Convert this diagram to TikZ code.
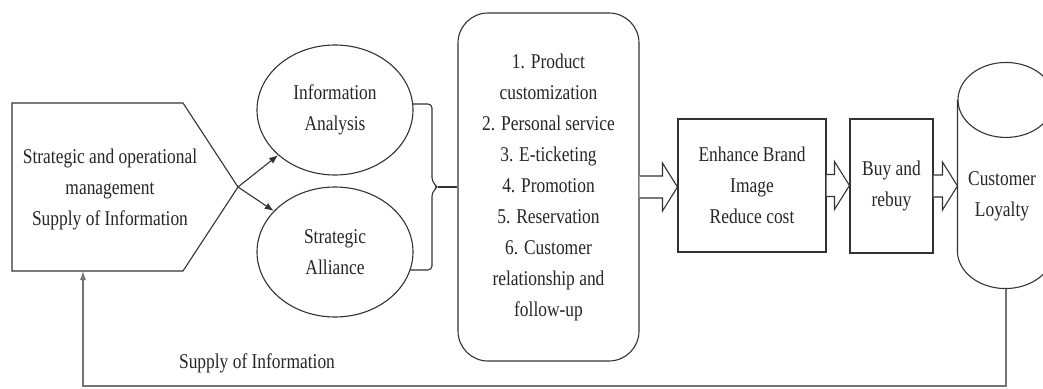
\documentclass[tikz,border=0pt]{standalone}
\usepackage{fontspec}
\setmainfont{Liberation Serif}[FakeStretch=0.83]
\usetikzlibrary{shapes.geometric,arrows.meta,calc}

\begin{document}
\begin{tikzpicture}[x=1pt,y=-1pt,line width=1.1pt,
  font=\fontsize{21}{31}\selectfont,text=black!85,
  line/.style={draw=black!80},
  flow/.style={draw=black!80,-{Latex[length=9pt,width=7pt]}},
  feed/.style={draw=black!55,-{Latex[length=9pt,width=6pt]}},
  oval/.style={ellipse,draw=black!80,minimum width=156pt,minimum height=130pt,align=center,inner sep=0pt},
  box/.style={rectangle,draw=black!80,align=center,inner sep=0pt},
  hollow/.style={draw=black!80,fill=white,line join=miter}]
  \useasboundingbox (0,0) rectangle (1043,388);
  % management block
  \draw[line] (12,103) -- (183,103) -- (238,187) coordinate (tip)
    -- (183,271) -- (12,271) coordinate (mgmtSW) -- cycle;
  \node[align=center] (mgmt) at (110,189) {Strategic and operational\\management\\Supply of Information};
  % ovals
  \node[oval] (info) at (335,110) {Information\\Analysis};
  \node[oval] (ally) at (335,252) {Strategic\\Alliance};
  \draw[flow] (tip) -- (info);
  \draw[flow] (tip) -- (ally);
  % bracket
  \coordinate (brc) at (438,187);
  \draw[line,rounded corners=4pt] (413,104) -| (432,182) -- (brc) -- (432,192) |- (410,270);
  % activities
  \node[box,rounded corners=30pt,minimum width=181pt,minimum height=348pt] (acts) at (548.5,187)
    {1. Product\\customization\\2. Personal service\\3. E-ticketing\\4. Promotion\\5. Reservation\\6. Customer\\relationship and\\follow-up};
  \draw[line] (brc) -- (acts);
  % outcomes
  \node[box,minimum width=148pt,minimum height=133pt] (brand) at (752,185.5) {Enhance Brand\\Image\\Reduce cost};
  \node[box,minimum width=83pt,minimum height=134pt] (buy) at (891.5,186) {Buy and\\rebuy};
  % loyalty drum
  \node[minimum width=96pt,minimum height=225pt,inner sep=0pt] (loyal) at (1006,175.5) {};
  \draw[line] ($(loyal.north west)+(0,37.5)$) -- ($(loyal.south west)+(0,-37.5)$)
    arc[start angle=180,end angle=0,x radius=48,y radius=37.5] -- ($(loyal.north east)+(0,37.5)$);
  \draw[line] ($(loyal.north)+(0,37.5)$) ellipse[x radius=48,y radius=37.5];
  \node[align=center] (loyalTxt) at (1002,196) {Customer\\Loyalty};
  \foreach \a/\b in {acts/brand,brand/buy,buy/loyal}
    \draw[hollow] ($(\a.east)+(0,-11)$) -- ($(\b.west |- \a.east)+(-15,-11)$)
      -- ($(\b.west |- \a.east)+(-15,-24)$) -- (\b.west |- \a.east)
      -- ($(\b.west |- \a.east)+(-15,24)$) -- ($(\b.west |- \a.east)+(-15,11)$)
      -- ($(\a.east)+(0,11)$);
  % feedback
  \coordinate (fbL) at (83,386);
  \draw[feed] (loyal.south) |- (fbL) -- (fbL |- mgmtSW);
  \node (supply) at (257,363) {Supply of Information};
\end{tikzpicture}
\end{document}
